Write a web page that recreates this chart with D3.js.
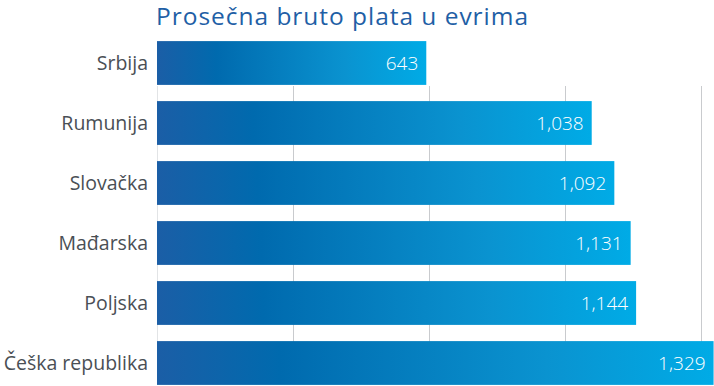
<!DOCTYPE html>
<meta charset="utf-8">
<style>
  body { margin: 0; background: #fff; }
  text { font-family: "Open Sans", "Noto Sans", sans-serif; }
</style>
<body>
<div id="chart"></div>
<script src="https://d3js.org/d3.v7.min.js"></script>
<script>

// Data
var countries = ["Srbija", "Rumunija", "Slovačka", "Mađarska", "Poljska", "Češka republika"];
var salaries = [643, 1038, 1092, 1131, 1144, 1329];
var gridTicks = [325, 650, 975, 1300];
var title = "Prosečna bruto plata u evrima";

var width = 714, height = 386;

var svg = d3.select("#chart")
  .append("svg")
    .attr("width", width)
    .attr("height", height);

// gradient for the bars
var grad = svg.append("defs").append("linearGradient")
    .attr("id", "barGrad")
    .attr("x1", "0%").attr("x2", "100%")
    .attr("y1", "0%").attr("y2", "0%");
grad.append("stop").attr("offset", "0%").attr("stop-color", "#1b5ea6");
grad.append("stop").attr("offset", "22%").attr("stop-color", "#006aae");
grad.append("stop").attr("offset", "70%").attr("stop-color", "#0a93d0");
grad.append("stop").attr("offset", "100%").attr("stop-color", "#00abe6");

var x = d3.scaleLinear()
  .domain([0, 1330])
  .range([157, 714]);

var y = d3.scaleBand()
  .domain(countries)
  .range([33, 393])
  .paddingInner(0.27)
  .paddingOuter(0.135);

// Grid lines (behind the bars)
svg.append("g")
  .selectAll("line")
  .data([0].concat(gridTicks))
  .enter()
  .append("line")
    .attr("x1", function(d) { return Math.round(x(d)) + 0.5; })
    .attr("x2", function(d) { return Math.round(x(d)) + 0.5; })
    .attr("y1", 86)
    .attr("y2", 342)
    .attr("stroke", function(d) { return d === 0 ? "#e2e4e6" : "#c9cbce"; })
    .attr("stroke-width", 1);

// Title
svg.append("text")
  .attr("x", 156)
  .attr("y", 25)
  .attr("fill", "#1f5fa6")
  .attr("font-size", "24.5px")
  .attr("textLength", 372)
  .text(title);

var data = countries.map(function(c, i) { return { name: c, value: salaries[i] }; });

// Bars
svg.append("g")
  .selectAll("rect")
  .data(data)
  .enter()
  .append("rect")
    .attr("x", x(0))
    .attr("y", function(d) { return y(d.name); })
    .attr("width", function(d) { return x(d.value) - x(0); })
    .attr("height", y.bandwidth())
    .attr("fill", "url(#barGrad)");

// Value labels
svg.append("g")
  .selectAll("text")
  .data(data)
  .enter()
  .append("text")
    .attr("x", function(d) { return x(d.value) - 8; })
    .attr("y", function(d) { return y(d.name) + y.bandwidth() / 2; })
    .attr("dy", "0.35em")
    .attr("text-anchor", "end")
    .attr("fill", "#ffffff")
    .attr("font-size", "19px")
    .attr("font-weight", 300)
    .text(function(d) { return d3.format(",")(d.value); });

// Category labels
svg.append("g")
  .selectAll("text")
  .data(data)
  .enter()
  .append("text")
    .attr("x", 148)
    .attr("y", function(d) { return y(d.name) + y.bandwidth() / 2; })
    .attr("dy", "0.35em")
    .attr("text-anchor", "end")
    .attr("fill", "#4a4f55")
    .attr("font-size", "19.5px")
    .text(function(d) { return d.name; });

</script>
</body>
